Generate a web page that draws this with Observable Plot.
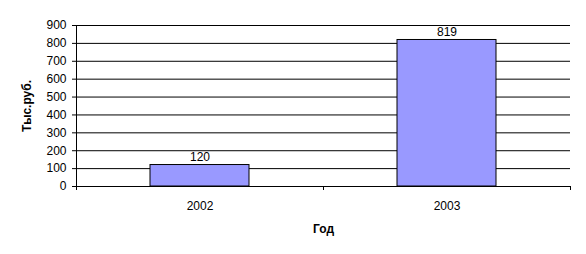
<!DOCTYPE html>
<html><head><meta charset="utf-8">
<script src="https://cdn.jsdelivr.net/npm/d3@7"></script>
<script src="https://cdn.jsdelivr.net/npm/@observablehq/plot@0.6"></script>
<style>
body{margin:0;background:#fff;}
svg{font-family:"Liberation Sans",Arial,sans-serif;}
</style></head>
<body><div id="chart"></div>
<script>
const years = ["2002", "2003"];
const values = [120, 819];
const yTicks = [0, 100, 200, 300, 400, 500, 600, 700, 800, 900];
const xLabel = "Год";
const yLabel = "Тыс.руб.";

const data = years.map((y, i) => ({year: y, value: values[i]}));
const W = 586, H = 254, ML = 76, MR = 16, MT = 25, MB = 68;
const step = (W - ML - MR) / years.length;

const chart = Plot.plot({
  width: W, height: H,
  marginLeft: ML, marginRight: MR, marginTop: MT, marginBottom: MB,
  style: {fontFamily: '"Liberation Sans", Arial, sans-serif', fontSize: "12px", color: "#000", background: "#fff"},
  x: {domain: years, paddingInner: 0.6, paddingOuter: 0.3},
  y: {domain: [0, 900]},
  marks: [
    Plot.ruleY(yTicks, {stroke: "#000", strokeWidth: 1}),
    Plot.barY(data, {x: "year", y: "value", fill: "#9999ff", stroke: "#000", strokeWidth: 1}),
    Plot.text(data, {x: "year", y: "value", text: d => String(d.value), dy: -8, fill: "#000", fontSize: 12}),
    Plot.ruleX(years, {x: d => d, y1: 0, y2: 0, dx: -step / 2, stroke: "#000", insetBottom: -4}),
    Plot.ruleX([years[years.length - 1]], {x: d => d, y1: 0, y2: 0, dx: step / 2, stroke: "#000", insetBottom: -4}),
    Plot.ruleX([years[0]], {x: d => d, y1: 0, y2: 900, dx: -step / 2, stroke: "#000"}),
    Plot.axisY({ticks: yTicks, tickSize: 4, tickPadding: 6, label: yLabel, labelAnchor: "center", labelArrow: "none", labelOffset: 54}),
    Plot.axisX({tickSize: 0, tickPadding: 15, label: xLabel, labelAnchor: "center", labelArrow: "none", labelOffset: 46})
  ]
});
document.getElementById("chart").append(chart);
chart.querySelectorAll("g[aria-label='y-axis label'], g[aria-label='x-axis label']").forEach(g => g.setAttribute("font-weight", "bold"));
</script></body></html>
